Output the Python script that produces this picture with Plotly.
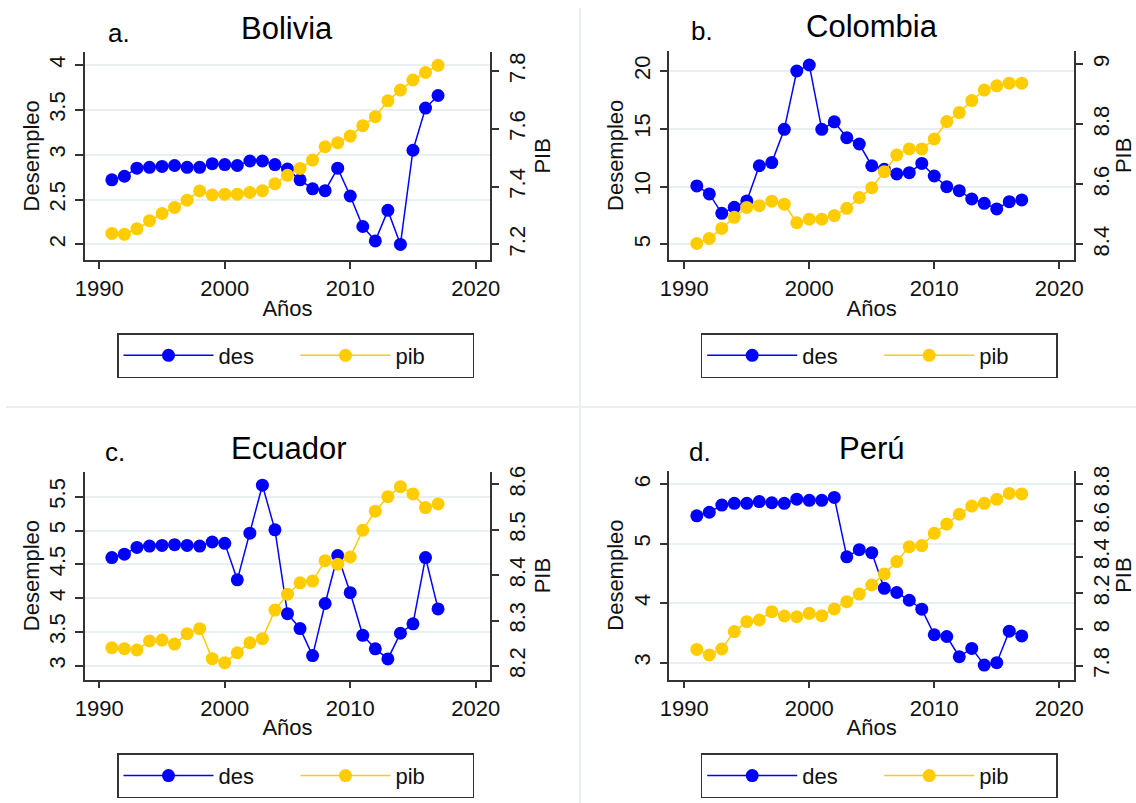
import plotly.graph_objects as go

# ---------------- data ----------------
years = list(range(1991, 2018))

bolivia_des = [2.72, 2.76, 2.85, 2.86, 2.87, 2.88, 2.86, 2.86, 2.90, 2.89, 2.88, 2.93, 2.93, 2.89,
               2.84, 2.72, 2.62, 2.60, 2.85, 2.54, 2.20, 2.04, 2.38, 2.00, 3.05, 3.52, 3.66]
bolivia_pib = [7.238, 7.235, 7.254, 7.282, 7.307, 7.328, 7.353, 7.385, 7.371, 7.374, 7.374, 7.380,
               7.386, 7.410, 7.439, 7.463, 7.492, 7.538, 7.552, 7.575, 7.611, 7.642, 7.697, 7.734,
               7.769, 7.795, 7.820]

colombia_des = [10.05, 9.36, 7.68, 8.20, 8.75, 11.80, 12.07, 14.95, 20.00, 20.52, 14.95, 15.60,
                14.23, 13.68, 11.80, 11.49, 11.09, 11.20, 12.00, 10.91, 9.99, 9.64, 8.92, 8.55,
                8.06, 8.69, 8.84]
colombia_pib = [8.403, 8.420, 8.453, 8.490, 8.523, 8.529, 8.544, 8.534, 8.472, 8.484, 8.484, 8.496,
                8.520, 8.556, 8.589, 8.642, 8.698, 8.718, 8.718, 8.751, 8.809, 8.839, 8.879, 8.914,
                8.928, 8.937, 8.937]

ecuador_des = [4.60, 4.65, 4.75, 4.77, 4.78, 4.79, 4.78, 4.77, 4.83, 4.81, 4.27, 4.96, 5.67, 5.01,
               3.77, 3.55, 3.15, 3.92, 4.63, 4.08, 3.45, 3.25, 3.10, 3.48, 3.62, 4.60, 3.84]
ecuador_pib = [8.240, 8.238, 8.235, 8.255, 8.257, 8.248, 8.271, 8.282, 8.216, 8.207, 8.229, 8.251,
               8.260, 8.323, 8.358, 8.383, 8.387, 8.432, 8.424, 8.440, 8.499, 8.541, 8.573, 8.595,
               8.579, 8.549, 8.557]

peru_des = [5.47, 5.53, 5.65, 5.68, 5.68, 5.71, 5.69, 5.68, 5.75, 5.73, 5.73, 5.78, 4.78, 4.90,
            4.85, 4.25, 4.18, 4.05, 3.90, 3.47, 3.44, 3.10, 3.24, 2.96, 3.00, 3.53, 3.45]
peru_pib = [7.890, 7.859, 7.892, 7.988, 8.043, 8.052, 8.098, 8.074, 8.070, 8.089, 8.076, 8.113,
            8.153, 8.195, 8.245, 8.306, 8.374, 8.456, 8.462, 8.530, 8.581, 8.635, 8.680, 8.695,
            8.717, 8.750, 8.747]

countries = ["Bolivia", "Colombia", "Ecuador", "Perú"]
letters = ["a.", "b.", "c.", "d."]
series_names = ["des", "pib"]

x_ticks = [1990, 2000, 2010, 2020]
left_ticks = [[2, 2.5, 3, 3.5, 4], [5, 10, 15, 20], [3, 3.5, 4, 4.5, 5, 5.5], [3, 4, 5, 6]]
left_ticklabels = [["2", "2.5", "3", "3.5", "4"], ["5", "10", "15", "20"],
                   ["3", "3.5", "4", "4.5", "5", "5.5"], ["3", "4", "5", "6"]]
right_ticks = [[7.2, 7.4, 7.6, 7.8], [8.4, 8.6, 8.8, 9], [8.2, 8.3, 8.4, 8.5, 8.6],
               [7.8, 8, 8.2, 8.4, 8.6, 8.8]]
right_ticklabels = [["7.2", "7.4", "7.6", "7.8"], ["8.4", "8.6", "8.8", "9"],
                    ["8.2", "8.3", "8.4", "8.5", "8.6"], ["7.8", "8", "8.2", "8.4", "8.6", "8.8"]]

des_data = [bolivia_des, colombia_des, ecuador_des, peru_des]
pib_data = [bolivia_pib, colombia_pib, ecuador_pib, peru_pib]

# ---------------- layout geometry (pixels) ----------------
W, H = 1136, 803
def px(x):
    return x / W
def py(y):
    return 1 - y / H

# plot-area boxes: left, right, top, bottom (px)
boxes = [(85, 490, 51.7, 260), (669.3, 1074, 50.7, 260),
         (85, 490, 471.7, 679.5), (669.3, 1074, 470.7, 679.5)]
x_ranges = [[1988.86, 2021.14], [1988.8, 2021.18], [1988.86, 2021.14], [1988.8, 2021.18]]
yl_ranges = [[1.827, 4.148], [3.641, 21.757], [2.796, 5.870], [2.717, 6.229]]
yr_ranges = [[7.146, 7.867], [8.348, 9.045], [8.170, 8.628], [7.724, 8.875]]
title_pos = [(287, 28), (872, 26), (288, 448), (871, 448)]
letter_pos = [(119, 33), (702, 31), (115, 452), (700, 452)]
legend_pos = [(117, 333), (700.7, 333), (117, 753.3), (700.7, 753.3)]

BLUE = "#0000FF"
GOLD = "#FFCC00"
AXC = "#333333"
GRID = "#E8F0F2"
FONT = "Liberation Sans, Arial, sans-serif"

fig = go.Figure()
layout = {}

for i in range(4):
    n = i + 1
    xname = "xaxis" if n == 1 else f"xaxis{n}"
    xref = "x" if n == 1 else f"x{n}"
    yl = 2 * i + 1
    yr = 2 * i + 2
    ylname = "yaxis" if yl == 1 else f"yaxis{yl}"
    ylref = "y" if yl == 1 else f"y{yl}"
    yrname = f"yaxis{yr}"
    yrref = f"y{yr}"
    legname = "legend" if n == 1 else f"legend{n}"

    L, R, T, B = boxes[i]
    xdom = [px(L), px(R)]
    ydom = [py(B), py(T)]

    fig.add_trace(go.Scatter(
        x=years, y=des_data[i], name=series_names[0], mode="lines+markers",
        line=dict(color=BLUE, width=1.5), marker=dict(color=BLUE, size=13, symbol="circle"),
        xaxis=xref, yaxis=ylref, legend=legname))
    fig.add_trace(go.Scatter(
        x=years, y=pib_data[i], name=series_names[1], mode="lines+markers",
        line=dict(color=GOLD, width=1.5), marker=dict(color=GOLD, size=13, symbol="circle"),
        xaxis=xref, yaxis=yrref, legend=legname))

    layout[xname] = dict(
        domain=xdom, anchor=ylref, range=x_ranges[i], tickvals=x_ticks,
        ticks="outside", ticklen=7, tickwidth=1.5, tickcolor=AXC,
        showline=True, linecolor=AXC, linewidth=1.5, showgrid=False, zeroline=False,
        tickfont=dict(size=22, family=FONT, color="#111"), ticklabelstandoff=1,
        title=dict(text="Años", font=dict(size=22, family=FONT, color="#111"), standoff=0),
        automargin=False)
    layout[ylname] = dict(
        domain=ydom, anchor=xref, range=yl_ranges[i], tickvals=left_ticks[i],
        ticktext=left_ticklabels[i], tickangle=-90,
        ticks="outside", ticklen=8, tickwidth=1.5, tickcolor=AXC,
        showline=True, linecolor=AXC, linewidth=1.5, showgrid=True, gridcolor=GRID,
        gridwidth=1.5, zeroline=False,
        tickfont=dict(size=22, family=FONT, color="#111"), ticklabelstandoff=1,
        title=dict(text="Desempleo", font=dict(size=22, family=FONT, color="#111"), standoff=0),
        automargin=False)
    layout[yrname] = dict(
        overlaying=ylref, side="right", anchor=xref, range=yr_ranges[i],
        tickvals=right_ticks[i], ticktext=right_ticklabels[i], tickangle=-90,
        ticks="outside", ticklen=7, tickwidth=1.5, tickcolor=AXC,
        showline=True, linecolor=AXC, linewidth=1.5, showgrid=False, zeroline=False,
        tickfont=dict(size=22, family=FONT, color="#111"), ticklabelstandoff=0,
        title=dict(text="PIB", font=dict(size=22, family=FONT, color="#111"), standoff=0),
        automargin=False)
    lx, ly = legend_pos[i]
    layout[legname] = dict(
        x=px(lx), y=py(ly), xanchor="left", yanchor="top", orientation="h",
        bordercolor=AXC, borderwidth=1.5, bgcolor="white",
        font=dict(size=22, family=FONT, color="#111"),
        itemwidth=90, entrywidth=72, itemclick=False, itemdoubleclick=False)

annotations = []
for i in range(4):
    tx, ty = title_pos[i]
    annotations.append(dict(text=countries[i], x=px(tx), y=py(ty), xref="paper", yref="paper",
                            showarrow=False, xanchor="center", yanchor="middle",
                            font=dict(size=31, family=FONT, color="black")))
    lx, ly = letter_pos[i]
    annotations.append(dict(text=letters[i], x=px(lx), y=py(ly), xref="paper", yref="paper",
                            showarrow=False, xanchor="center", yanchor="middle",
                            font=dict(size=26, family=FONT, color="black")))

shapes = [
    dict(type="line", xref="paper", yref="paper", x0=px(580), x1=px(580), y0=py(8), y1=py(803),
         line=dict(color="#E8F0F2", width=2), layer="below"),
    dict(type="line", xref="paper", yref="paper", x0=px(6), x1=px(1136), y0=py(407), y1=py(407),
         line=dict(color="#E8F0F2", width=2), layer="below"),
]

fig.update_layout(
    width=W, height=H, margin=dict(l=0, r=0, t=0, b=0),
    paper_bgcolor="white", plot_bgcolor="white",
    font=dict(family=FONT, color="#111"),
    annotations=annotations, shapes=shapes, **layout)

fig.write_html("out.html", config={"displayModeBar": False},
               post_script="document.body.style.margin='0';document.body.style.overflow='hidden';")
